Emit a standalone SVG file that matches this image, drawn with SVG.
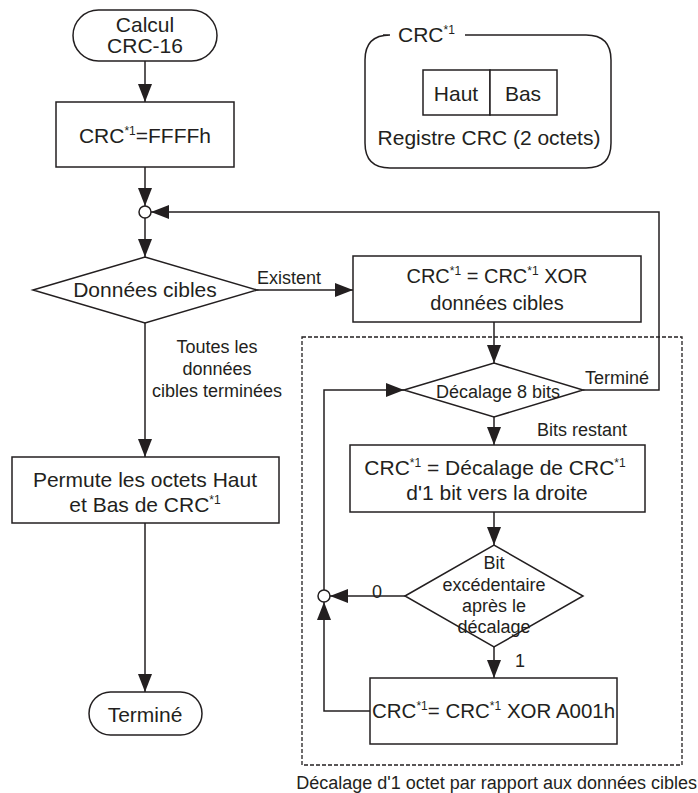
<svg xmlns="http://www.w3.org/2000/svg" width="698" height="793" viewBox="0 0 698 793">
<style>
.s{fill:#fff;stroke:#231f20;stroke-width:1.5}
.c{fill:none;stroke:#231f20;stroke-width:1.5}
.d{fill:none;stroke:#231f20;stroke-width:1.3;stroke-dasharray:4,2}
text{font-family:"Liberation Sans",Arial,sans-serif;fill:#231f20}
.L{font-size:21px;text-anchor:middle}
.M{font-size:18px;text-anchor:middle}
.m{font-size:18px}
.sup{font-size:12px}
</style>
<defs>
<marker id="ah" markerWidth="18" markerHeight="14" refX="18" refY="7" orient="auto" markerUnits="userSpaceOnUse"><path d="M0,0 L18,7 L0,14 z" fill="#231f20"/></marker>
</defs>
<g id="connectors">
<path class="c" d="M145,61 V102" marker-end="url(#ah)"/>
<path class="c" d="M145,167 V206" marker-end="url(#ah)"/>
<path class="c" d="M145,218 V257" marker-end="url(#ah)"/>
<path class="c" d="M257,290 H353" marker-end="url(#ah)"/>
<path class="c" d="M494,322 V363" marker-end="url(#ah)"/>
<path class="c" d="M583,390 H659 V212 H151" marker-end="url(#ah)"/>
<path class="c" d="M494,417 V445" marker-end="url(#ah)"/>
<path class="c" d="M494,512 V545" marker-end="url(#ah)"/>
<path class="c" d="M405,596 H330" marker-end="url(#ah)"/>
<path class="c" d="M494,647 V678" marker-end="url(#ah)"/>
<path class="c" d="M370,711 H324 V602" marker-end="url(#ah)"/>
<path class="c" d="M324,590 V390 H404" marker-end="url(#ah)"/>
<path class="c" d="M145,323 V457" marker-end="url(#ah)"/>
<path class="c" d="M145,523 V692" marker-end="url(#ah)"/>
<text class="m" x="257" y="284">Existent</text>
<text class="m" x="585" y="384">Terminé</text>
<text class="m" x="537" y="436">Bits restant</text>
<text class="m" x="372" y="598">0</text>
<text class="m" x="515" y="667">1</text>
<text class="M" x="217" y="353">Toutes les</text>
<text class="M" x="217" y="375">données</text>
<text class="M" x="217" y="397">cibles terminées</text>
</g>
<g id="loop-frame">
<rect class="d" x="302" y="337" width="380" height="428"/>
<text class="m" x="697" y="789" text-anchor="end">Décalage d'1 octet par rapport aux données cibles</text>
</g>
<g id="start">
<rect class="s" x="73" y="10" width="144" height="51" rx="25.5"/>
<text class="L" x="145" y="32">Calcul</text>
<text class="L" x="145" y="53">CRC-16</text>
</g>
<g id="init">
<rect class="s" x="56" y="102" width="178" height="65"/>
<text class="L" x="145" y="143">CRC<tspan class="sup" dy="-8">*1</tspan><tspan dy="8">=FFFFh</tspan></text>
</g>
<g id="merge1"><circle class="s" cx="145" cy="212" r="6"/></g>
<g id="data-check">
<path class="s" d="M33,290 L145,257 L257,290 L145,323 Z"/>
<text class="L" x="145" y="297">Données cibles</text>
</g>
<g id="xor-data">
<rect class="s" x="353" y="256" width="288" height="66"/>
<text class="M" x="497" y="283" style="font-size:20px">CRC<tspan class="sup" dy="-8">*1</tspan><tspan dy="8"> = CRC</tspan><tspan class="sup" dy="-8">*1</tspan><tspan dy="8"> XOR</tspan></text>
<text class="M" x="497" y="310" style="font-size:20px">données cibles</text>
</g>
<g id="shift8">
<path class="s" d="M404,390 L494,363 L583,390 L494,417 Z"/>
<text class="M" x="498" y="398">Décalage 8 bits</text>
</g>
<g id="shift1">
<rect class="s" x="350" y="445" width="295" height="67"/>
<text class="L" x="495" y="475">CRC<tspan class="sup" dy="-8">*1</tspan><tspan dy="8"> = Décalage de CRC</tspan><tspan class="sup" dy="-8">*1</tspan></text>
<text class="L" x="497" y="500">d'1 bit vers la droite</text>
</g>
<g id="overflow">
<path class="s" d="M405,596 L494,545 L583,596 L494,647 Z"/>
<text class="M" x="494" y="569">Bit</text>
<text class="M" x="494" y="591">excédentaire</text>
<text class="M" x="494" y="612">après le</text>
<text class="M" x="494" y="633">décalage</text>
</g>
<g id="merge2"><circle class="s" cx="324" cy="596" r="6"/></g>
<g id="xor-a001">
<rect class="s" x="370" y="678" width="247" height="66"/>
<text x="372" y="718" style="font-size:20.5px">CRC<tspan class="sup" dy="-8">*1</tspan><tspan dy="8">= CRC</tspan><tspan class="sup" dy="-8">*1</tspan><tspan dy="8"> XOR A001h</tspan></text>
</g>
<g id="swap">
<rect class="s" x="12" y="457" width="267" height="66"/>
<text class="L" x="145" y="487">Permute les octets Haut</text>
<text class="L" x="145" y="512">et Bas de CRC<tspan class="sup" dy="-8">*1</tspan></text>
</g>
<g id="end">
<rect class="s" x="89" y="692" width="113" height="43" rx="21.5"/>
<text class="L" x="145" y="722">Terminé</text>
</g>
<g id="register">
<path class="c" d="M383,35 H390 Q365,35 365,60 V143 Q365,168 390,168 H586 Q611,168 611,143 V60 Q611,35 586,35 H465"/>
<text x="398" y="42" style="font-size:21px">CRC<tspan class="sup" dy="-8">*1</tspan></text>
<rect class="s" x="423" y="70" width="67" height="45"/>
<rect class="s" x="490" y="70" width="67" height="45"/>
<text class="L" x="456" y="101">Haut</text>
<text class="L" x="523" y="101">Bas</text>
<text class="L" x="489" y="145">Registre CRC (2 octets)</text>
</g>
</svg>
